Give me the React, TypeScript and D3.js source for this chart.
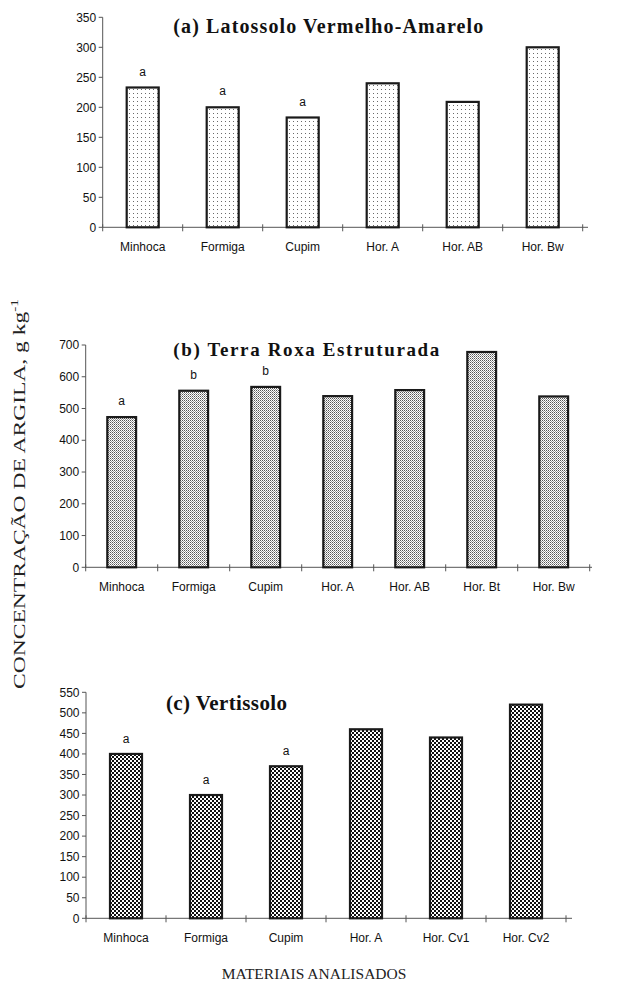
import React from "react";
import * as d3 from "d3";

// ---------- data ----------
const catsA = ["Minhoca", "Formiga", "Cupim", "Hor. A", "Hor. AB", "Hor. Bw"];
const valsA = [233, 200, 183, 240, 209, 300];
const lettersA = ["a", "a", "a", "", "", ""];
const ticksA = [0, 50, 100, 150, 200, 250, 300, 350];

const catsB = ["Minhoca", "Formiga", "Cupim", "Hor. A", "Hor. AB", "Hor. Bt", "Hor. Bw"];
const valsB = [473, 556, 568, 539, 558, 678, 538];
const lettersB = ["a", "b", "b", "", "", "", ""];
const ticksB = [0, 100, 200, 300, 400, 500, 600, 700];

const catsC = ["Minhoca", "Formiga", "Cupim", "Hor. A", "Hor. Cv1", "Hor. Cv2"];
const valsC = [400, 300, 370, 460, 440, 520];
const lettersC = ["a", "a", "a", "", "", ""];
const ticksC = [0, 50, 100, 150, 200, 250, 300, 350, 400, 450, 500, 550];

const titleA = "(a) Latossolo Vermelho-Amarelo";
const titleB = "(b) Terra Roxa Estruturada";
const titleC = "(c) Vertissolo";
const yTitle = "CONCENTRAÇÃO DE ARGILA, g kg";
const yTitleSup = "-1";
const xTitle = "MATERIAIS ANALISADOS";

const SANS = "'Liberation Sans', Arial, sans-serif";
const SERIF = "'Liberation Serif', 'Times New Roman', serif";

type PanelProps = {
  cats: string[];
  vals: number[];
  letters: string[];
  ticks: number[];
  x0: number;
  x1: number;
  xEnd: number;
  y0: number;
  yTop: number;
  fill: string;
  title: string;
  titleX: number;
  titleY: number;
  titleSize: number;
  titleLen: number;
  letterGap: number;
};

function Panel(p: PanelProps) {
  const yMax = p.ticks[p.ticks.length - 1];
  const y = d3.scaleLinear().domain([0, yMax]).range([p.y0, p.yTop]);
  const x = d3
    .scaleBand<string>()
    .domain(p.cats)
    .range([p.x0, p.x1])
    .paddingInner(0.6)
    .paddingOuter(0.3);
  const step = x.step();
  const bw = x.bandwidth();
  const bounds = p.cats.map((c) => (x(c) as number) - (step - bw) / 2);
  bounds.push(bounds[bounds.length - 1] + step);

  return (
    <g>
      {/* axes */}
      <line x1={p.x0} x2={p.x0} y1={p.y0} y2={p.yTop} stroke="#555" strokeWidth={1} />
      <line x1={p.x0} x2={p.xEnd} y1={p.y0} y2={p.y0} stroke="#555" strokeWidth={1} />
      {p.ticks.map((t) => (
        <g key={t}>
          <line x1={p.x0 - 4} x2={p.x0} y1={y(t)} y2={y(t)} stroke="#555" strokeWidth={1} />
          <text
            x={p.x0 - 6.5}
            y={y(t)}
            dy="0.35em"
            textAnchor="end"
            fontFamily={SANS}
            fontSize={12}
            fill="#111"
          >
            {t}
          </text>
        </g>
      ))}
      {bounds.map((b, i) => (
        <line key={i} x1={b} x2={b} y1={p.y0 - 3} y2={p.y0 + 4} stroke="#555" strokeWidth={1} />
      ))}
      {/* bars */}
      {p.cats.map((c, i) => (
        <rect
          key={c}
          x={x(c)}
          y={y(p.vals[i])}
          width={bw}
          height={p.y0 - y(p.vals[i])}
          fill={p.fill}
          stroke="#1a1a1a"
          strokeWidth={2.2}
        />
      ))}
      {/* letters */}
      {p.cats.map((c, i) =>
        p.letters[i] ? (
          <text
            key={"l" + c}
            x={(x(c) as number) + bw / 2}
            y={y(p.vals[i]) - p.letterGap}
            textAnchor="middle"
            fontFamily={SANS}
            fontSize={12}
            fill="#111"
          >
            {p.letters[i]}
          </text>
        ) : null
      )}
      {/* category labels */}
      {p.cats.map((c) => (
        <text
          key={"c" + c}
          x={(x(c) as number) + bw / 2}
          y={p.y0 + 24}
          textAnchor="middle"
          fontFamily={SANS}
          fontSize={12}
          fill="#111"
        >
          {c}
        </text>
      ))}
      {/* title */}
      <text
        x={p.titleX}
        y={p.titleY}
        fontFamily={SERIF}
        fontWeight="bold"
        fontSize={p.titleSize}
        textLength={p.titleLen}
        lengthAdjust="spacing"
        fill="#111"
      >
        {p.title}
      </text>
    </g>
  );
}

export default function App() {
  return (
    <svg
      width={621}
      height={982}
      viewBox="0 0 621 982"
      style={{ position: "absolute", left: 0, top: 0, background: "#fff" }}
    >
      <defs>
        <pattern id="patA" width={4} height={4} patternUnits="userSpaceOnUse">
          <rect width={4} height={4} fill="#fff" />
          <rect x={1} y={1} width={1} height={1} fill="#6a6a6a" />
        </pattern>
        <pattern id="patB" width={2} height={2} patternUnits="userSpaceOnUse">
          <rect width={2} height={2} fill="#fff" />
          <rect x={0} y={0} width={1} height={1} fill="#555" />
          <rect x={1} y={1} width={1} height={1} fill="#999" />
        </pattern>
        <pattern id="patC" width={4} height={4} patternUnits="userSpaceOnUse">
          <rect width={4} height={4} fill="#fff" />
          <rect x={0} y={0} width={2} height={2} fill="#111" />
          <rect x={2} y={2} width={2} height={2} fill="#111" />
        </pattern>
      </defs>
      <rect width={621} height={982} fill="#fff" />

      <Panel
        cats={catsA}
        vals={valsA}
        letters={lettersA}
        ticks={ticksA}
        x0={102.7}
        x1={582.7}
        xEnd={588}
        y0={227.3}
        yTop={17.3}
        fill="url(#patA)"
        title={titleA}
        titleX={173.3}
        titleY={33}
        titleSize={20}
        titleLen={310}
        letterGap={12}
      />
      <Panel
        cats={catsB}
        vals={valsB}
        letters={lettersB}
        ticks={ticksB}
        x0={85.7}
        x1={589.7}
        xEnd={592}
        y0={567.3}
        yTop={345}
        fill="url(#patB)"
        title={titleB}
        titleX={173.3}
        titleY={356}
        titleSize={19}
        titleLen={266}
        letterGap={12}
      />
      <Panel
        cats={catsC}
        vals={valsC}
        letters={lettersC}
        ticks={ticksC}
        x0={86}
        x1={566}
        xEnd={572}
        y0={918.3}
        yTop={692.3}
        fill="url(#patC)"
        title={titleC}
        titleX={166}
        titleY={710}
        titleSize={21}
        titleLen={121}
        letterGap={11}
      />

      <text
        transform="translate(25,494) rotate(-90)"
        textAnchor="middle"
        fontFamily={SERIF}
        fontSize={17}
        textLength={390}
        lengthAdjust="spacingAndGlyphs"
        fill="#222"
      >
        {yTitle}
        <tspan fontSize={11} dy={-7}>
          {yTitleSup}
        </tspan>
      </text>

      <text
        x={314}
        y={979}
        textAnchor="middle"
        fontFamily={SERIF}
        fontSize={15.5}
        fill="#222"
      >
        {xTitle}
      </text>
    </svg>
  );
}
